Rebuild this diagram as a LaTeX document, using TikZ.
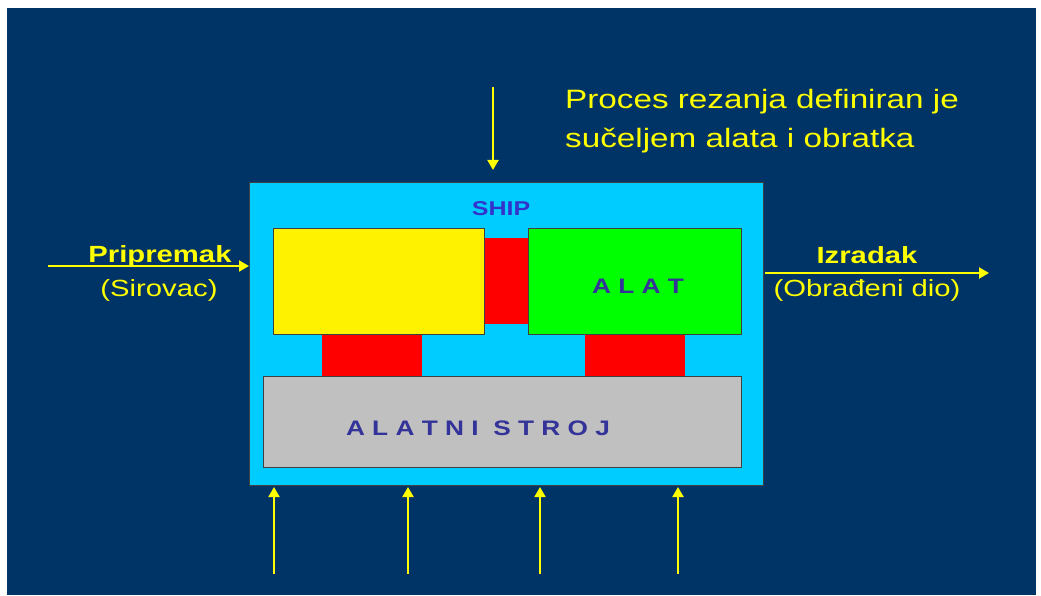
\documentclass[tikz,border=0pt]{standalone}
\usepackage{fontspec}
\setmainfont{Liberation Sans}[FakeStretch=1.25]
\usetikzlibrary{arrows.meta}
\definecolor{slideblue}{RGB}{0,51,102}
\definecolor{shipcyan}{RGB}{0,204,255}
\definecolor{tagblue}{RGB}{51,51,153}
\definecolor{shipblue}{RGB}{51,51,204}
\definecolor{machinegray}{RGB}{192,192,192}
\definecolor{feedyellow}{RGB}{255,255,0}

\begin{document}
\begin{tikzpicture}[x=1pt,y=-1pt,
  block/.style={draw=black!75,line width=1pt,inner sep=0,outer sep=0},
  contact/.style={fill=red,inner sep=0,outer sep=0},
  feed/.style={draw=feedyellow,line width=2pt,-{Triangle[width=11pt,length=10pt]}},
  note/.style={text=feedyellow,inner sep=0,font=\fontsize{23.4}{28}\selectfont},
  tag/.style={text=tagblue,inner sep=0,font=\fontsize{21}{25}\selectfont\bfseries}]
  % Boundary
  \path[use as bounding box] (0,0) rectangle (1041,596);
  \fill[slideblue] (7,8) rectangle (1036,595);
  % Cutting system
  \node[block,fill=shipcyan,minimum width=514,minimum height=302] (ship) at (506,334) {};
  \node[tag,text=shipblue,font=\fontsize{20}{24}\selectfont\bfseries,anchor=base] (shiplabel) at (501,215) {SHIP};
  % Contacts
  \node[contact,minimum width=44,minimum height=86] (midjoint) at (506,281) {};
  \node[contact,minimum width=100,minimum height=44] (workjoint) at (372,355.5) {};
  \node[contact,minimum width=100,minimum height=44] (tooljoint) at (635,355.5) {};
  % Workpiece, tool, machine
  \node[block,fill=yellow,minimum width=211,minimum height=106] (work) at (378.5,281) {};
  \node[block,fill=green,minimum width=213,minimum height=106] (tool) at (634.5,281) {};
  \node[block,fill=machinegray,minimum width=478,minimum height=91] (machine) at (502,421.5) {};
  \node[tag,anchor=base] (toollabel) at (638,293) {A L A T};
  \node[tag,anchor=base] (machinelabel) at (478,435) {A L A T N I \ S T R O J};
  % Inputs and output
  \coordinate (inL) at (48,266);
  \draw[feed] (inL) -- (inL -| ship.west);
  \coordinate (outR) at (989,273);
  \draw[feed] ([xshift=2pt]ship.east |- outR) -- (outR);
  \coordinate (topin) at (493,87);
  \draw[feed] (topin) -- ([yshift=13pt]topin |- ship.north);
  \foreach \xx in {274,408,540,678} {
    \coordinate (b\xx) at (\xx,574);
    \draw[feed] (b\xx) -- ([yshift=-2pt]b\xx |- ship.south);
  }
  % Labels
  \node[note,font=\fontsize{23.4}{28}\selectfont\bfseries,anchor=base] (raw) at (160,262) {Pripremak};
  \node[note,anchor=base] (rawsub) at (159,296) {(Sirovac)};
  \node[note,font=\fontsize{23.4}{28}\selectfont\bfseries,anchor=base] (part) at (867,263) {Izradak};
  \node[note,anchor=base] (partsub) at (867,296) {(Obrađeni dio)};
  \node[note,font=\fontsize{26.6}{39}\selectfont,anchor=base west] (proc1) at (565,109) {Proces rezanja definiran je};
  \node[note,font=\fontsize{26.6}{39}\selectfont,anchor=base west] (proc2) at (565,148) {sučeljem alata i obratka};
\end{tikzpicture}
\end{document}
